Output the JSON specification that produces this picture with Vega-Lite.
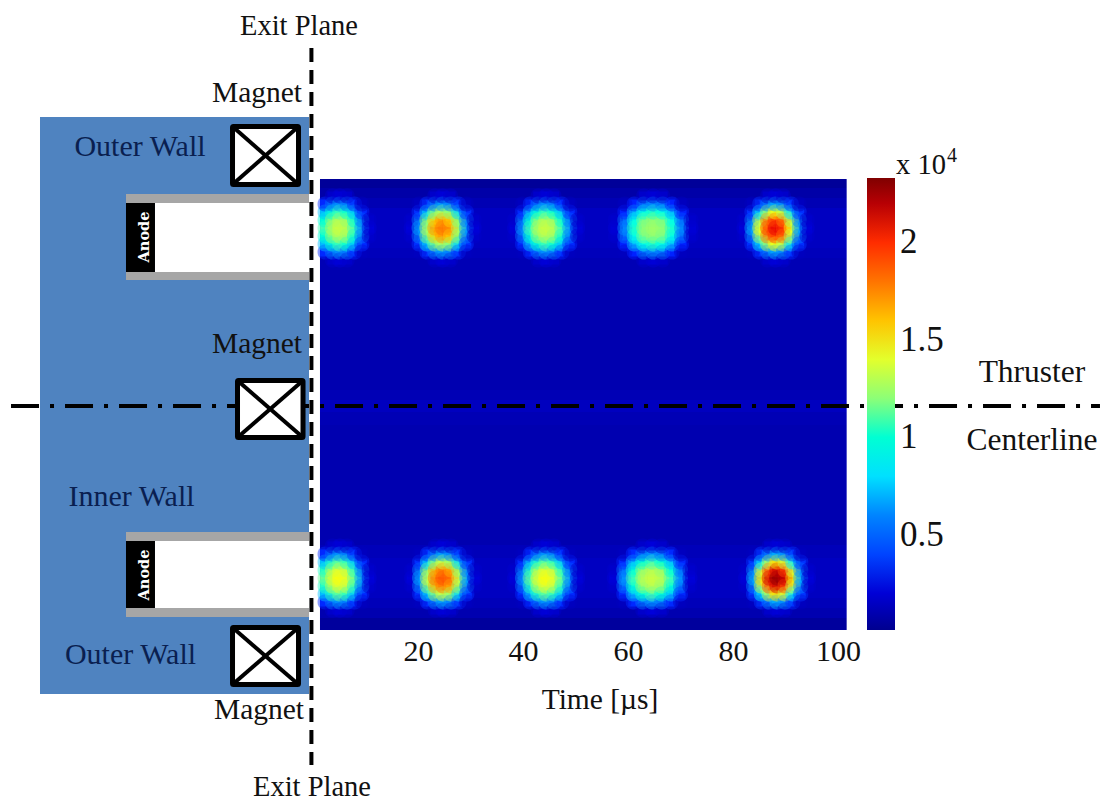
{"$schema":"https://vega.github.io/schema/vega-lite/v6.json","width":1105,"height":801,"padding":0,"autosize":{"type":"none"},"background":"white","config":{"view":{"stroke":null}},
"datasets":{"cells":[
{"t":2.3,"r":154,"v":3400},{"t":2.3,"r":162,"v":7200},{"t":2.3,"r":170,"v":9900},{"t":2.3,"r":178,"v":10700},{"t":2.3,"r":186,"v":9900},{"t":2.3,"r":194,"v":7200},{"t":2.3,"r":202,"v":3400},
{"t":3.7,"r":146,"v":1700},{"t":3.7,"r":154,"v":5400},{"t":3.7,"r":162,"v":9900},{"t":3.7,"r":170,"v":12300},{"t":3.7,"r":178,"v":13000},{"t":3.7,"r":186,"v":12300},{"t":3.7,"r":194,"v":9900},{"t":3.7,"r":202,"v":5400},{"t":3.7,"r":210,"v":1700},
{"t":5.1,"r":146,"v":2100},{"t":5.1,"r":154,"v":6300},{"t":5.1,"r":162,"v":10700},{"t":5.1,"r":170,"v":13000},{"t":5.1,"r":178,"v":13500},{"t":5.1,"r":186,"v":13000},{"t":5.1,"r":194,"v":10700},{"t":5.1,"r":202,"v":6300},{"t":5.1,"r":210,"v":2100},
{"t":6.5,"r":146,"v":1700},{"t":6.5,"r":154,"v":5400},{"t":6.5,"r":162,"v":9900},{"t":6.5,"r":170,"v":12300},{"t":6.5,"r":178,"v":13000},{"t":6.5,"r":186,"v":12300},{"t":6.5,"r":194,"v":9900},{"t":6.5,"r":202,"v":5400},{"t":6.5,"r":210,"v":1700},
{"t":7.9,"r":154,"v":3400},{"t":7.9,"r":162,"v":7200},{"t":7.9,"r":170,"v":9900},{"t":7.9,"r":178,"v":10700},{"t":7.9,"r":186,"v":9900},{"t":7.9,"r":194,"v":7200},{"t":7.9,"r":202,"v":3400},
{"t":9.3,"r":154,"v":1400},{"t":9.3,"r":162,"v":3400},{"t":9.3,"r":170,"v":5400},{"t":9.3,"r":178,"v":6300},{"t":9.3,"r":186,"v":5400},{"t":9.3,"r":194,"v":3400},{"t":9.3,"r":202,"v":1400},
{"t":10.7,"r":170,"v":1700},{"t":10.7,"r":178,"v":2100},{"t":10.7,"r":186,"v":1700},

{"t":18.7,"r":170,"v":1700},{"t":18.7,"r":178,"v":2100},{"t":18.7,"r":186,"v":1700},
{"t":20.2,"r":154,"v":1400},{"t":20.2,"r":162,"v":3500},{"t":20.2,"r":170,"v":5600},{"t":20.2,"r":178,"v":6600},{"t":20.2,"r":186,"v":5600},{"t":20.2,"r":194,"v":3500},{"t":20.2,"r":202,"v":1400},
{"t":21.7,"r":154,"v":3500},{"t":21.7,"r":162,"v":7700},{"t":21.7,"r":170,"v":11700},{"t":21.7,"r":178,"v":13000},{"t":21.7,"r":186,"v":11700},{"t":21.7,"r":194,"v":7700},{"t":21.7,"r":202,"v":3500},
{"t":23.2,"r":146,"v":1700},{"t":23.2,"r":154,"v":5600},{"t":23.2,"r":162,"v":11700},{"t":23.2,"r":170,"v":15700},{"t":23.2,"r":178,"v":17100},{"t":23.2,"r":186,"v":15700},{"t":23.2,"r":194,"v":11700},{"t":23.2,"r":202,"v":5600},{"t":23.2,"r":210,"v":1700},
{"t":24.7,"r":146,"v":2100},{"t":24.7,"r":154,"v":6600},{"t":24.7,"r":162,"v":13000},{"t":24.7,"r":170,"v":17100},{"t":24.7,"r":178,"v":18000},{"t":24.7,"r":186,"v":17100},{"t":24.7,"r":194,"v":13000},{"t":24.7,"r":202,"v":6600},{"t":24.7,"r":210,"v":2100},
{"t":26.2,"r":146,"v":1700},{"t":26.2,"r":154,"v":5600},{"t":26.2,"r":162,"v":11700},{"t":26.2,"r":170,"v":15700},{"t":26.2,"r":178,"v":17100},{"t":26.2,"r":186,"v":15700},{"t":26.2,"r":194,"v":11700},{"t":26.2,"r":202,"v":5600},{"t":26.2,"r":210,"v":1700},
{"t":27.7,"r":154,"v":3500},{"t":27.7,"r":162,"v":7700},{"t":27.7,"r":170,"v":11700},{"t":27.7,"r":178,"v":13000},{"t":27.7,"r":186,"v":11700},{"t":27.7,"r":194,"v":7700},{"t":27.7,"r":202,"v":3500},
{"t":29.2,"r":154,"v":1400},{"t":29.2,"r":162,"v":3500},{"t":29.2,"r":170,"v":5600},{"t":29.2,"r":178,"v":6600},{"t":29.2,"r":186,"v":5600},{"t":29.2,"r":194,"v":3500},{"t":29.2,"r":202,"v":1400},
{"t":30.7,"r":170,"v":1700},{"t":30.7,"r":178,"v":2100},{"t":30.7,"r":186,"v":1700},

{"t":38.4,"r":170,"v":1700},{"t":38.4,"r":178,"v":2100},{"t":38.4,"r":186,"v":1700},
{"t":39.9,"r":154,"v":1400},{"t":39.9,"r":162,"v":3400},{"t":39.9,"r":170,"v":5400},{"t":39.9,"r":178,"v":6300},{"t":39.9,"r":186,"v":5400},{"t":39.9,"r":194,"v":3400},{"t":39.9,"r":202,"v":1400},
{"t":41.4,"r":154,"v":3400},{"t":41.4,"r":162,"v":7200},{"t":41.4,"r":170,"v":9900},{"t":41.4,"r":178,"v":10700},{"t":41.4,"r":186,"v":9900},{"t":41.4,"r":194,"v":7200},{"t":41.4,"r":202,"v":3400},
{"t":42.9,"r":146,"v":1700},{"t":42.9,"r":154,"v":5400},{"t":42.9,"r":162,"v":9900},{"t":42.9,"r":170,"v":12300},{"t":42.9,"r":178,"v":13000},{"t":42.9,"r":186,"v":12300},{"t":42.9,"r":194,"v":9900},{"t":42.9,"r":202,"v":5400},{"t":42.9,"r":210,"v":1700},
{"t":44.4,"r":146,"v":2100},{"t":44.4,"r":154,"v":6300},{"t":44.4,"r":162,"v":10700},{"t":44.4,"r":170,"v":13000},{"t":44.4,"r":178,"v":13500},{"t":44.4,"r":186,"v":13000},{"t":44.4,"r":194,"v":10700},{"t":44.4,"r":202,"v":6300},{"t":44.4,"r":210,"v":2100},
{"t":45.9,"r":146,"v":1700},{"t":45.9,"r":154,"v":5400},{"t":45.9,"r":162,"v":9900},{"t":45.9,"r":170,"v":12300},{"t":45.9,"r":178,"v":13000},{"t":45.9,"r":186,"v":12300},{"t":45.9,"r":194,"v":9900},{"t":45.9,"r":202,"v":5400},{"t":45.9,"r":210,"v":1700},
{"t":47.4,"r":154,"v":3400},{"t":47.4,"r":162,"v":7200},{"t":47.4,"r":170,"v":9900},{"t":47.4,"r":178,"v":10700},{"t":47.4,"r":186,"v":9900},{"t":47.4,"r":194,"v":7200},{"t":47.4,"r":202,"v":3400},
{"t":48.9,"r":154,"v":1400},{"t":48.9,"r":162,"v":3400},{"t":48.9,"r":170,"v":5400},{"t":48.9,"r":178,"v":6300},{"t":48.9,"r":186,"v":5400},{"t":48.9,"r":194,"v":3400},{"t":48.9,"r":202,"v":1400},
{"t":50.4,"r":170,"v":1700},{"t":50.4,"r":178,"v":2100},{"t":50.4,"r":186,"v":1700},

{"t":57.6,"r":170,"v":1700},{"t":57.6,"r":178,"v":2000},{"t":57.6,"r":186,"v":1700},
{"t":59.4,"r":154,"v":1400},{"t":59.4,"r":162,"v":3300},{"t":59.4,"r":170,"v":5300},{"t":59.4,"r":178,"v":6100},{"t":59.4,"r":186,"v":5300},{"t":59.4,"r":194,"v":3300},{"t":59.4,"r":202,"v":1400},
{"t":61.2,"r":154,"v":3300},{"t":61.2,"r":162,"v":7000},{"t":61.2,"r":170,"v":9500},{"t":61.2,"r":178,"v":10200},{"t":61.2,"r":186,"v":9500},{"t":61.2,"r":194,"v":7000},{"t":61.2,"r":202,"v":3300},
{"t":63,"r":146,"v":1700},{"t":63,"r":154,"v":5300},{"t":63,"r":162,"v":9500},{"t":63,"r":170,"v":11600},{"t":63,"r":178,"v":12100},{"t":63,"r":186,"v":11600},{"t":63,"r":194,"v":9500},{"t":63,"r":202,"v":5300},{"t":63,"r":210,"v":1700},
{"t":64.8,"r":146,"v":2000},{"t":64.8,"r":154,"v":6100},{"t":64.8,"r":162,"v":10200},{"t":64.8,"r":170,"v":12100},{"t":64.8,"r":178,"v":12500},{"t":64.8,"r":186,"v":12100},{"t":64.8,"r":194,"v":10200},{"t":64.8,"r":202,"v":6100},{"t":64.8,"r":210,"v":2000},
{"t":66.6,"r":146,"v":1700},{"t":66.6,"r":154,"v":5300},{"t":66.6,"r":162,"v":9500},{"t":66.6,"r":170,"v":11600},{"t":66.6,"r":178,"v":12100},{"t":66.6,"r":186,"v":11600},{"t":66.6,"r":194,"v":9500},{"t":66.6,"r":202,"v":5300},{"t":66.6,"r":210,"v":1700},
{"t":68.4,"r":154,"v":3300},{"t":68.4,"r":162,"v":7000},{"t":68.4,"r":170,"v":9500},{"t":68.4,"r":178,"v":10200},{"t":68.4,"r":186,"v":9500},{"t":68.4,"r":194,"v":7000},{"t":68.4,"r":202,"v":3300},
{"t":70.2,"r":154,"v":1400},{"t":70.2,"r":162,"v":3300},{"t":70.2,"r":170,"v":5300},{"t":70.2,"r":178,"v":6100},{"t":70.2,"r":186,"v":5300},{"t":70.2,"r":194,"v":3300},{"t":70.2,"r":202,"v":1400},
{"t":72,"r":170,"v":1700},{"t":72,"r":178,"v":2000},{"t":72,"r":186,"v":1700},

{"t":82.1,"r":170,"v":1700},{"t":82.1,"r":178,"v":2100},{"t":82.1,"r":186,"v":1700},
{"t":83.6,"r":154,"v":1400},{"t":83.6,"r":162,"v":3500},{"t":83.6,"r":170,"v":5800},{"t":83.6,"r":178,"v":6800},{"t":83.6,"r":186,"v":5800},{"t":83.6,"r":194,"v":3500},{"t":83.6,"r":202,"v":1400},
{"t":85.1,"r":154,"v":3500},{"t":85.1,"r":162,"v":8000},{"t":85.1,"r":170,"v":12800},{"t":85.1,"r":178,"v":14500},{"t":85.1,"r":186,"v":12800},{"t":85.1,"r":194,"v":8000},{"t":85.1,"r":202,"v":3500},
{"t":86.6,"r":146,"v":1700},{"t":86.6,"r":154,"v":5800},{"t":86.6,"r":162,"v":12800},{"t":86.6,"r":170,"v":18000},{"t":86.6,"r":178,"v":19800},{"t":86.6,"r":186,"v":18000},{"t":86.6,"r":194,"v":12800},{"t":86.6,"r":202,"v":5800},{"t":86.6,"r":210,"v":1700},
{"t":88.1,"r":146,"v":2100},{"t":88.1,"r":154,"v":6800},{"t":88.1,"r":162,"v":14500},{"t":88.1,"r":170,"v":19800},{"t":88.1,"r":178,"v":21000},{"t":88.1,"r":186,"v":19800},{"t":88.1,"r":194,"v":14500},{"t":88.1,"r":202,"v":6800},{"t":88.1,"r":210,"v":2100},
{"t":89.6,"r":146,"v":1700},{"t":89.6,"r":154,"v":5800},{"t":89.6,"r":162,"v":12800},{"t":89.6,"r":170,"v":18000},{"t":89.6,"r":178,"v":19800},{"t":89.6,"r":186,"v":18000},{"t":89.6,"r":194,"v":12800},{"t":89.6,"r":202,"v":5800},{"t":89.6,"r":210,"v":1700},
{"t":91.1,"r":154,"v":3500},{"t":91.1,"r":162,"v":8000},{"t":91.1,"r":170,"v":12800},{"t":91.1,"r":178,"v":14500},{"t":91.1,"r":186,"v":12800},{"t":91.1,"r":194,"v":8000},{"t":91.1,"r":202,"v":3500},
{"t":92.6,"r":154,"v":1400},{"t":92.6,"r":162,"v":3500},{"t":92.6,"r":170,"v":5800},{"t":92.6,"r":178,"v":6800},{"t":92.6,"r":186,"v":5800},{"t":92.6,"r":194,"v":3500},{"t":92.6,"r":202,"v":1400},
{"t":94.1,"r":170,"v":1700},{"t":94.1,"r":178,"v":2100},{"t":94.1,"r":186,"v":1700},

{"t":2.3,"r":-196,"v":3400},{"t":2.3,"r":-188,"v":7300},{"t":2.3,"r":-180,"v":10300},{"t":2.3,"r":-172,"v":11300},{"t":2.3,"r":-164,"v":10300},{"t":2.3,"r":-156,"v":7300},{"t":2.3,"r":-148,"v":3400},
{"t":3.7,"r":-204,"v":1700},{"t":3.7,"r":-196,"v":5400},{"t":3.7,"r":-188,"v":10300},{"t":3.7,"r":-180,"v":13200},{"t":3.7,"r":-172,"v":14000},{"t":3.7,"r":-164,"v":13200},{"t":3.7,"r":-156,"v":10300},{"t":3.7,"r":-148,"v":5400},{"t":3.7,"r":-140,"v":1700},
{"t":5.1,"r":-204,"v":2100},{"t":5.1,"r":-196,"v":6400},{"t":5.1,"r":-188,"v":11300},{"t":5.1,"r":-180,"v":14000},{"t":5.1,"r":-172,"v":14500},{"t":5.1,"r":-164,"v":14000},{"t":5.1,"r":-156,"v":11300},{"t":5.1,"r":-148,"v":6400},{"t":5.1,"r":-140,"v":2100},
{"t":6.5,"r":-204,"v":1700},{"t":6.5,"r":-196,"v":5400},{"t":6.5,"r":-188,"v":10300},{"t":6.5,"r":-180,"v":13200},{"t":6.5,"r":-172,"v":14000},{"t":6.5,"r":-164,"v":13200},{"t":6.5,"r":-156,"v":10300},{"t":6.5,"r":-148,"v":5400},{"t":6.5,"r":-140,"v":1700},
{"t":7.9,"r":-196,"v":3400},{"t":7.9,"r":-188,"v":7300},{"t":7.9,"r":-180,"v":10300},{"t":7.9,"r":-172,"v":11300},{"t":7.9,"r":-164,"v":10300},{"t":7.9,"r":-156,"v":7300},{"t":7.9,"r":-148,"v":3400},
{"t":9.3,"r":-196,"v":1400},{"t":9.3,"r":-188,"v":3400},{"t":9.3,"r":-180,"v":5400},{"t":9.3,"r":-172,"v":6400},{"t":9.3,"r":-164,"v":5400},{"t":9.3,"r":-156,"v":3400},{"t":9.3,"r":-148,"v":1400},
{"t":10.7,"r":-180,"v":1700},{"t":10.7,"r":-172,"v":2100},{"t":10.7,"r":-164,"v":1700},

{"t":18.8,"r":-180,"v":1700},{"t":18.8,"r":-172,"v":2100},{"t":18.8,"r":-164,"v":1700},
{"t":20.3,"r":-196,"v":1400},{"t":20.3,"r":-188,"v":3500},{"t":20.3,"r":-180,"v":5700},{"t":20.3,"r":-172,"v":6700},{"t":20.3,"r":-164,"v":5700},{"t":20.3,"r":-156,"v":3500},{"t":20.3,"r":-148,"v":1400},
{"t":21.8,"r":-196,"v":3500},{"t":21.8,"r":-188,"v":7800},{"t":21.8,"r":-180,"v":12100},{"t":21.8,"r":-172,"v":13600},{"t":21.8,"r":-164,"v":12100},{"t":21.8,"r":-156,"v":7800},{"t":21.8,"r":-148,"v":3500},
{"t":23.3,"r":-204,"v":1700},{"t":23.3,"r":-196,"v":5700},{"t":23.3,"r":-188,"v":12100},{"t":23.3,"r":-180,"v":16500},{"t":23.3,"r":-172,"v":18100},{"t":23.3,"r":-164,"v":16500},{"t":23.3,"r":-156,"v":12100},{"t":23.3,"r":-148,"v":5700},{"t":23.3,"r":-140,"v":1700},
{"t":24.8,"r":-204,"v":2100},{"t":24.8,"r":-196,"v":6700},{"t":24.8,"r":-188,"v":13600},{"t":24.8,"r":-180,"v":18100},{"t":24.8,"r":-172,"v":19200},{"t":24.8,"r":-164,"v":18100},{"t":24.8,"r":-156,"v":13600},{"t":24.8,"r":-148,"v":6700},{"t":24.8,"r":-140,"v":2100},
{"t":26.3,"r":-204,"v":1700},{"t":26.3,"r":-196,"v":5700},{"t":26.3,"r":-188,"v":12100},{"t":26.3,"r":-180,"v":16500},{"t":26.3,"r":-172,"v":18100},{"t":26.3,"r":-164,"v":16500},{"t":26.3,"r":-156,"v":12100},{"t":26.3,"r":-148,"v":5700},{"t":26.3,"r":-140,"v":1700},
{"t":27.8,"r":-196,"v":3500},{"t":27.8,"r":-188,"v":7800},{"t":27.8,"r":-180,"v":12100},{"t":27.8,"r":-172,"v":13600},{"t":27.8,"r":-164,"v":12100},{"t":27.8,"r":-156,"v":7800},{"t":27.8,"r":-148,"v":3500},
{"t":29.3,"r":-196,"v":1400},{"t":29.3,"r":-188,"v":3500},{"t":29.3,"r":-180,"v":5700},{"t":29.3,"r":-172,"v":6700},{"t":29.3,"r":-164,"v":5700},{"t":29.3,"r":-156,"v":3500},{"t":29.3,"r":-148,"v":1400},
{"t":30.8,"r":-180,"v":1700},{"t":30.8,"r":-172,"v":2100},{"t":30.8,"r":-164,"v":1700},

{"t":38.4,"r":-180,"v":1700},{"t":38.4,"r":-172,"v":2100},{"t":38.4,"r":-164,"v":1700},
{"t":39.9,"r":-196,"v":1400},{"t":39.9,"r":-188,"v":3400},{"t":39.9,"r":-180,"v":5400},{"t":39.9,"r":-172,"v":6400},{"t":39.9,"r":-164,"v":5400},{"t":39.9,"r":-156,"v":3400},{"t":39.9,"r":-148,"v":1400},
{"t":41.4,"r":-196,"v":3400},{"t":41.4,"r":-188,"v":7300},{"t":41.4,"r":-180,"v":10300},{"t":41.4,"r":-172,"v":11300},{"t":41.4,"r":-164,"v":10300},{"t":41.4,"r":-156,"v":7300},{"t":41.4,"r":-148,"v":3400},
{"t":42.9,"r":-204,"v":1700},{"t":42.9,"r":-196,"v":5400},{"t":42.9,"r":-188,"v":10300},{"t":42.9,"r":-180,"v":13200},{"t":42.9,"r":-172,"v":14000},{"t":42.9,"r":-164,"v":13200},{"t":42.9,"r":-156,"v":10300},{"t":42.9,"r":-148,"v":5400},{"t":42.9,"r":-140,"v":1700},
{"t":44.4,"r":-204,"v":2100},{"t":44.4,"r":-196,"v":6400},{"t":44.4,"r":-188,"v":11300},{"t":44.4,"r":-180,"v":14000},{"t":44.4,"r":-172,"v":14500},{"t":44.4,"r":-164,"v":14000},{"t":44.4,"r":-156,"v":11300},{"t":44.4,"r":-148,"v":6400},{"t":44.4,"r":-140,"v":2100},
{"t":45.9,"r":-204,"v":1700},{"t":45.9,"r":-196,"v":5400},{"t":45.9,"r":-188,"v":10300},{"t":45.9,"r":-180,"v":13200},{"t":45.9,"r":-172,"v":14000},{"t":45.9,"r":-164,"v":13200},{"t":45.9,"r":-156,"v":10300},{"t":45.9,"r":-148,"v":5400},{"t":45.9,"r":-140,"v":1700},
{"t":47.4,"r":-196,"v":3400},{"t":47.4,"r":-188,"v":7300},{"t":47.4,"r":-180,"v":10300},{"t":47.4,"r":-172,"v":11300},{"t":47.4,"r":-164,"v":10300},{"t":47.4,"r":-156,"v":7300},{"t":47.4,"r":-148,"v":3400},
{"t":48.9,"r":-196,"v":1400},{"t":48.9,"r":-188,"v":3400},{"t":48.9,"r":-180,"v":5400},{"t":48.9,"r":-172,"v":6400},{"t":48.9,"r":-164,"v":5400},{"t":48.9,"r":-156,"v":3400},{"t":48.9,"r":-148,"v":1400},
{"t":50.4,"r":-180,"v":1700},{"t":50.4,"r":-172,"v":2100},{"t":50.4,"r":-164,"v":1700},

{"t":57.4,"r":-180,"v":1700},{"t":57.4,"r":-172,"v":2100},{"t":57.4,"r":-164,"v":1700},
{"t":59.2,"r":-196,"v":1400},{"t":59.2,"r":-188,"v":3400},{"t":59.2,"r":-180,"v":5400},{"t":59.2,"r":-172,"v":6300},{"t":59.2,"r":-164,"v":5400},{"t":59.2,"r":-156,"v":3400},{"t":59.2,"r":-148,"v":1400},
{"t":61,"r":-196,"v":3400},{"t":61,"r":-188,"v":7200},{"t":61,"r":-180,"v":9900},{"t":61,"r":-172,"v":10700},{"t":61,"r":-164,"v":9900},{"t":61,"r":-156,"v":7200},{"t":61,"r":-148,"v":3400},
{"t":62.8,"r":-204,"v":1700},{"t":62.8,"r":-196,"v":5400},{"t":62.8,"r":-188,"v":9900},{"t":62.8,"r":-180,"v":12300},{"t":62.8,"r":-172,"v":13000},{"t":62.8,"r":-164,"v":12300},{"t":62.8,"r":-156,"v":9900},{"t":62.8,"r":-148,"v":5400},{"t":62.8,"r":-140,"v":1700},
{"t":64.6,"r":-204,"v":2100},{"t":64.6,"r":-196,"v":6300},{"t":64.6,"r":-188,"v":10700},{"t":64.6,"r":-180,"v":13000},{"t":64.6,"r":-172,"v":13500},{"t":64.6,"r":-164,"v":13000},{"t":64.6,"r":-156,"v":10700},{"t":64.6,"r":-148,"v":6300},{"t":64.6,"r":-140,"v":2100},
{"t":66.4,"r":-204,"v":1700},{"t":66.4,"r":-196,"v":5400},{"t":66.4,"r":-188,"v":9900},{"t":66.4,"r":-180,"v":12300},{"t":66.4,"r":-172,"v":13000},{"t":66.4,"r":-164,"v":12300},{"t":66.4,"r":-156,"v":9900},{"t":66.4,"r":-148,"v":5400},{"t":66.4,"r":-140,"v":1700},
{"t":68.2,"r":-196,"v":3400},{"t":68.2,"r":-188,"v":7200},{"t":68.2,"r":-180,"v":9900},{"t":68.2,"r":-172,"v":10700},{"t":68.2,"r":-164,"v":9900},{"t":68.2,"r":-156,"v":7200},{"t":68.2,"r":-148,"v":3400},
{"t":70,"r":-196,"v":1400},{"t":70,"r":-188,"v":3400},{"t":70,"r":-180,"v":5400},{"t":70,"r":-172,"v":6300},{"t":70,"r":-164,"v":5400},{"t":70,"r":-156,"v":3400},{"t":70,"r":-148,"v":1400},
{"t":71.8,"r":-180,"v":1700},{"t":71.8,"r":-172,"v":2100},{"t":71.8,"r":-164,"v":1700},

{"t":82.4,"r":-180,"v":1700},{"t":82.4,"r":-172,"v":2100},{"t":82.4,"r":-164,"v":1700},
{"t":83.9,"r":-196,"v":1400},{"t":83.9,"r":-188,"v":3600},{"t":83.9,"r":-180,"v":5900},{"t":83.9,"r":-172,"v":7000},{"t":83.9,"r":-164,"v":5900},{"t":83.9,"r":-156,"v":3600},{"t":83.9,"r":-148,"v":1400},
{"t":85.4,"r":-196,"v":3600},{"t":85.4,"r":-188,"v":8200},{"t":85.4,"r":-180,"v":13500},{"t":85.4,"r":-172,"v":15500},{"t":85.4,"r":-164,"v":13500},{"t":85.4,"r":-156,"v":8200},{"t":85.4,"r":-148,"v":3600},
{"t":86.9,"r":-204,"v":1700},{"t":86.9,"r":-196,"v":5900},{"t":86.9,"r":-188,"v":13500},{"t":86.9,"r":-180,"v":19500},{"t":86.9,"r":-172,"v":21500},{"t":86.9,"r":-164,"v":19500},{"t":86.9,"r":-156,"v":13500},{"t":86.9,"r":-148,"v":5900},{"t":86.9,"r":-140,"v":1700},
{"t":88.4,"r":-204,"v":2100},{"t":88.4,"r":-196,"v":7000},{"t":88.4,"r":-188,"v":15500},{"t":88.4,"r":-180,"v":21500},{"t":88.4,"r":-172,"v":23000},{"t":88.4,"r":-164,"v":21500},{"t":88.4,"r":-156,"v":15500},{"t":88.4,"r":-148,"v":7000},{"t":88.4,"r":-140,"v":2100},
{"t":89.9,"r":-204,"v":1700},{"t":89.9,"r":-196,"v":5900},{"t":89.9,"r":-188,"v":13500},{"t":89.9,"r":-180,"v":19500},{"t":89.9,"r":-172,"v":21500},{"t":89.9,"r":-164,"v":19500},{"t":89.9,"r":-156,"v":13500},{"t":89.9,"r":-148,"v":5900},{"t":89.9,"r":-140,"v":1700},
{"t":91.4,"r":-196,"v":3600},{"t":91.4,"r":-188,"v":8200},{"t":91.4,"r":-180,"v":13500},{"t":91.4,"r":-172,"v":15500},{"t":91.4,"r":-164,"v":13500},{"t":91.4,"r":-156,"v":8200},{"t":91.4,"r":-148,"v":3600},
{"t":92.9,"r":-196,"v":1400},{"t":92.9,"r":-188,"v":3600},{"t":92.9,"r":-180,"v":5900},{"t":92.9,"r":-172,"v":7000},{"t":92.9,"r":-164,"v":5900},{"t":92.9,"r":-156,"v":3600},{"t":92.9,"r":-148,"v":1400},
{"t":94.4,"r":-180,"v":1700},{"t":94.4,"r":-172,"v":2100},{"t":94.4,"r":-164,"v":1700}
]},
"encoding":{"x":{"field":"t","type":"quantitative","scale":{"domain":[-59.619,150.857],"nice":false,"zero":false},"axis":{"values":[20,40,60,80,100],"title":null,"grid":false,"domain":false,"ticks":false,"labelPadding":0,"offset":-150,"labelBaseline":"middle","labelFont":"Liberation Serif","labelFontSize":30,"labelColor":"#111111"}},"y":{"field":"r","type":"quantitative","scale":{"domain":[-395,406],"nice":false,"zero":false},"axis":null}},
"layer":[
{"data":{"values":[{"t":1.33,"t2":101.65,"r":227,"r2":218,"v":400},{"t":1.33,"t2":101.65,"r":218,"r2":208,"v":800},{"t":1.33,"t2":101.65,"r":208,"r2":198,"v":1100},{"t":1.33,"t2":101.65,"r":198,"r2":158,"v":1450},{"t":1.33,"t2":101.65,"r":158,"r2":148,"v":1300},{"t":1.33,"t2":101.65,"r":148,"r2":136,"v":1150},{"t":1.33,"t2":101.65,"r":136,"r2":16,"v":1000},{"t":1.33,"t2":101.65,"r":16,"r2":6,"v":1150},{"t":1.33,"t2":101.65,"r":6,"r2":-6,"v":1400},{"t":1.33,"t2":101.65,"r":-6,"r2":-19,"v":1150},{"t":1.33,"t2":101.65,"r":-19,"r2":-139,"v":1000},{"t":1.33,"t2":101.65,"r":-139,"r2":-152,"v":1250},{"t":1.33,"t2":101.65,"r":-152,"r2":-192,"v":1450},{"t":1.33,"t2":101.65,"r":-192,"r2":-202,"v":1250},{"t":1.33,"t2":101.65,"r":-202,"r2":-212,"v":1000},{"t":1.33,"t2":101.65,"r":-212,"r2":-224,"v":500}]},
"mark":{"type":"rect","stroke":null},"encoding":{"x2":{"field":"t2"},"y2":{"field":"r2"},"color":{"field":"v","type":"quantitative","scale":{"domain":[120,23300],"range":["#00008f","#0000ff","#0080ff","#00ffff","#80ff80","#ffff00","#ff8000","#ff0000","#800000"]},"legend":{"orient":"none","legendX":867,"legendY":178,"gradientLength":452,"gradientThickness":28,"gradientOpacity":1,"title":null,"values":[5000,10000,15000,20000],"labelExpr":"format(datum.value/10000,'~g')","labelFont":"Liberation Serif","labelFontSize":35,"labelColor":"#111111","labelOffset":5,"gradientStrokeWidth":0,"zindex":-1}}}},
{"data":{"name":"cells"},"mark":{"type":"rect","width":10,"height":9,"stroke":null},"encoding":{"color":{"field":"v","type":"quantitative"}}},
{"data":{"name":"cells"},"mark":{"type":"rect","width":15,"height":15,"cornerRadius":7,"fillOpacity":0.45,"stroke":null},"encoding":{"color":{"field":"v","type":"quantitative"}}},
{"data":{"values":[{"t":-52,"t2":-0.76,"r":289,"r2":-288}]},"mark":{"type":"rect","fill":"#4f83c0"},"encoding":{"x2":{"field":"t2"},"y2":{"field":"r2"}}},
{"data":{"values":[{"t":-35.62,"t2":-0.76,"r":212,"r2":203},{"t":-35.62,"t2":-0.76,"r":134,"r2":126},{"t":-35.62,"t2":-0.76,"r":-126,"r2":-135},{"t":-35.62,"t2":-0.76,"r":-202,"r2":-211}]},"mark":{"type":"rect","fill":"#a6a6a6"},"encoding":{"x2":{"field":"t2"},"y2":{"field":"r2"}}},
{"data":{"values":[{"t":-30.1,"t2":-0.76,"r":203,"r2":134},{"t":-30.1,"t2":-0.76,"r":-135,"r2":-202}]},"mark":{"type":"rect","fill":"white"},"encoding":{"x2":{"field":"t2"},"y2":{"field":"r2"}}},
{"data":{"values":[{"t":-35.62,"t2":-30.1,"r":203,"r2":134},{"t":-35.62,"t2":-30.1,"r":-135,"r2":-202}]},"mark":{"type":"rect","fill":"black"},"encoding":{"x2":{"field":"t2"},"y2":{"field":"r2"}}},
{"data":{"values":[{"t":-57.52,"t2":149.9,"r":0,"r2":0}]},"mark":{"type":"rule","stroke":"black","strokeWidth":4,"strokeDash":[28,11,4,11]},"encoding":{"x2":{"field":"t2"}}},
{"data":{"values":[{"t":-0.3,"t2":-0.3,"r":358,"r2":-359}]},"mark":{"type":"rule","stroke":"black","strokeWidth":4,"strokeDash":[14,8]},"encoding":{"y2":{"field":"r2"}}},
{"data":{"values":[{"t":-15.33,"t2":-2.76,"r":279.5,"r2":221.5},{"t":-14.38,"t2":-1.9,"r":25.5,"r2":-31.5},{"t":-15.33,"t2":-2.76,"r":-221.5,"r2":-278.5}]},"mark":{"type":"rect","fill":"white","stroke":"black","strokeWidth":5,"cornerRadius":1},"encoding":{"x2":{"field":"t2"},"y2":{"field":"r2"}}},
{"data":{"values":[{"t":-15.33,"t2":-2.76,"r":279.5,"r2":221.5},{"t":-15.33,"t2":-2.76,"r":221.5,"r2":279.5},{"t":-14.38,"t2":-1.9,"r":25.5,"r2":-31.5},{"t":-14.38,"t2":-1.9,"r":-31.5,"r2":25.5},{"t":-15.33,"t2":-2.76,"r":-221.5,"r2":-278.5},{"t":-15.33,"t2":-2.76,"r":-278.5,"r2":-221.5}]},"mark":{"type":"rule","stroke":"black","strokeWidth":4},"encoding":{"x2":{"field":"t2"},"y2":{"field":"r2"}}},
{"data":{"values":[{"t":-2.67,"r":380,"label":"Exit Plane"},{"t":-0.19,"r":-381,"label":"Exit Plane"},{"t":115.8,"r":241,"label":"x 10"}]},"mark":{"type":"text","font":"Liberation Serif","fontSize":28.5,"fill":"#111111","baseline":"middle","align":"center"},"encoding":{"text":{"field":"label"}}},
{"data":{"values":[{"t":-10.67,"r":313,"label":"Magnet"},{"t":-10.67,"r":62,"label":"Magnet"},{"t":-10.29,"r":-304,"label":"Magnet"},{"t":54.67,"r":-294,"label":"Time [µs]"}]},"mark":{"type":"text","font":"Liberation Serif","fontSize":29.5,"fill":"#111111","baseline":"middle","align":"center"},"encoding":{"text":{"field":"label"}}},
{"data":{"values":[{"t":136.95,"r":33,"label":"Thruster"},{"t":136.95,"r":-35,"label":"Centerline"}]},"mark":{"type":"text","font":"Liberation Serif","fontSize":31.5,"fill":"#111111","baseline":"middle","align":"center"},"encoding":{"text":{"field":"label"}}},
{"data":{"values":[{"t":121.7,"r":250,"label":"4"}]},"mark":{"type":"text","font":"Liberation Serif","fontSize":20,"fill":"#111111","baseline":"middle","align":"center"},"encoding":{"text":{"field":"label"}}},
{"data":{"values":[{"t":-32.95,"r":259,"label":"Outer Wall"},{"t":-34.76,"r":-249,"label":"Outer Wall"},{"t":-34.57,"r":-91,"label":"Inner Wall"}]},"mark":{"type":"text","font":"Liberation Serif","fontSize":30,"fill":"#0a1f50","baseline":"middle","align":"center"},"encoding":{"text":{"field":"label"}}},
{"data":{"values":[{"t":-32,"r":169,"label":"Anode"},{"t":-32,"r":-169,"label":"Anode"}]},"mark":{"type":"text","font":"DejaVu Serif","fontWeight":"bold","fontSize":14.5,"fill":"white","baseline":"middle","align":"center","angle":270},"encoding":{"text":{"field":"label"}}}
]}
